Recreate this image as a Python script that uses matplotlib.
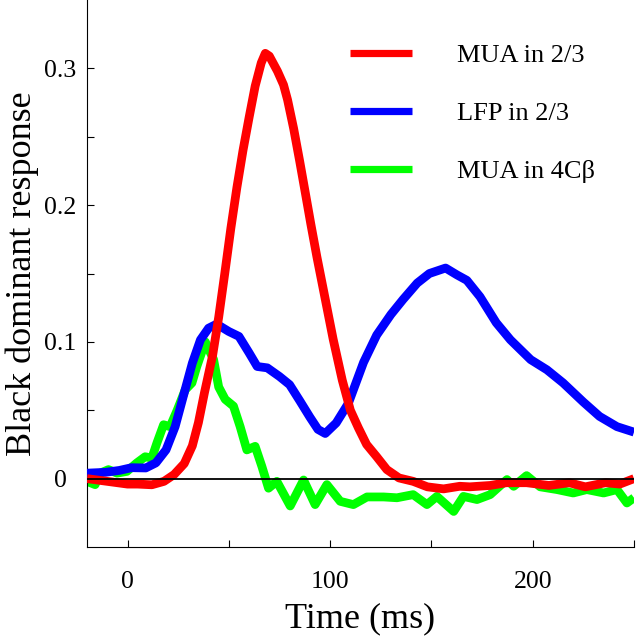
import numpy as np
import matplotlib
matplotlib.use("Agg")
import matplotlib.pyplot as plt

plt.rcParams['font.family'] = ['Liberation Serif', 'DejaVu Serif']

# MUA in 2/3 (red)
t_mua23 = [-20, -10, 0, 5, 12, 18, 23, 28, 32, 35, 38, 42, 45, 48, 51, 54, 57, 60, 63, 66,
           68, 70, 74, 77, 79, 82, 85, 88, 90.5, 93.5, 97.5, 101.5, 106, 110, 114, 118, 123,
           128, 134, 141, 148, 156, 164, 169, 179, 187, 197, 208, 218, 226, 236, 243, 250]
v_mua23 = [0.0, -0.002, -0.004, -0.004, -0.0045, -0.002, 0.003, 0.011, 0.024, 0.041, 0.063,
           0.090, 0.118, 0.150, 0.183, 0.213, 0.240, 0.264, 0.287, 0.304,
           0.311, 0.309, 0.298, 0.288, 0.277, 0.256, 0.232, 0.207, 0.186, 0.162, 0.132, 0.102,
           0.072, 0.050, 0.037, 0.025, 0.016, 0.0066, 0.0005, -0.002, -0.006, -0.0075, -0.0056,
           -0.006, -0.005, -0.003, -0.003, -0.005, -0.003, -0.006, -0.003, -0.004, 0.0]

# LFP in 2/3 (blue)
t_lfp23 = [-20, -11, -4, 2, 9, 14, 19, 23.5, 27.5, 32, 36, 40, 44, 50, 55, 60, 64, 69, 75,
           80, 85, 90, 94, 97.6, 103, 109, 116.5, 123, 130, 136, 143, 149, 157, 162.6, 167.5,
           174, 182, 189, 199, 207, 215, 225, 233, 241.6, 250]
v_lfp23 = [0.004, 0.0046, 0.006, 0.008, 0.0078, 0.0115, 0.021, 0.038, 0.060, 0.0845, 0.1015,
           0.110, 0.113, 0.1076, 0.104, 0.092, 0.082, 0.081, 0.0747, 0.0687, 0.057, 0.045,
           0.036, 0.033, 0.0407, 0.055, 0.085, 0.105, 0.12, 0.131, 0.143, 0.150, 0.154, 0.149,
           0.145, 0.133, 0.114, 0.1015, 0.087, 0.0796, 0.070, 0.056, 0.0455, 0.038, 0.034]

# MUA in 4Cbeta (green)
t_mua4c = [-20, -16, -13.5, -9.4, -5.2, -0.3, 4.6, 8.7, 12, 14.5, 17.8, 21, 24.5, 28.5, 31.8,
           34.2, 38.4, 42.5, 45, 48.2, 52.3, 55.6, 58.9, 63, 66.3, 69.6, 73.7, 80.3, 86.9,
           92.6, 98.4, 105, 111.5, 118.2, 126.4, 133, 141, 147.8, 152.7, 161, 165.8, 172.5,
           179, 187.3, 190.6, 197, 203.7, 212, 220, 226.7, 235, 241.6, 246.5, 250]
v_mua4c = [-0.002, -0.0044, 0.004, 0.0066, 0.004, 0.0053, 0.0115, 0.016, 0.015, 0.026, 0.0394,
           0.038, 0.05, 0.065, 0.070, 0.082, 0.100, 0.087, 0.067, 0.058, 0.053, 0.038, 0.021,
           0.0236, 0.009, -0.007, -0.002, -0.020, -0.001, -0.019, -0.0044, -0.0166, -0.019,
           -0.0134, -0.0134, -0.014, -0.0117, -0.019, -0.013, -0.024, -0.013, -0.0153, -0.0117,
           -0.0007, -0.0056, 0.0022, -0.006, -0.008, -0.0105, -0.008, -0.0105, -0.008, -0.0178,
           -0.014]

labels = ["MUA in 2/3", "LFP in 2/3", "MUA in 4C\u03b2"]
colours = ["#ff0000", "#0000ff", "#00ff00"]

fig = plt.figure(figsize=(6.38, 6.39), dpi=100)
ax = fig.add_axes([87/638., 92/639., 547/638., 547/639.])

lw = 6.3
ax.plot(t_mua4c, v_mua4c, color=colours[2], lw=lw, label=labels[2], zorder=2,
        solid_joinstyle='round', solid_capstyle='butt')
ax.plot(t_lfp23, v_lfp23, color=colours[1], lw=lw, label=labels[1], zorder=3,
        solid_joinstyle='round', solid_capstyle='butt')
ax.plot(t_mua23, v_mua23, color=colours[0], lw=lw, label=labels[0], zorder=4,
        solid_joinstyle='round', solid_capstyle='butt')
ax.axhline(0, color='black', lw=1.3, zorder=5)

ax.set_xlim(-20, 250)
ax.set_ylim(-0.05, 0.35)
ax.set_xticks([0, 100, 200])
ax.set_xticks([50, 150, 250], minor=True)
ax.set_yticks([0, 0.1, 0.2, 0.3])
ax.set_yticks([0.05, 0.15, 0.25], minor=True)
ax.set_yticklabels(["0", "0.1", "0.2", "0.3"])
ax.tick_params(which='both', direction='in', length=5, width=0.8, labelsize=18.5)
ax.tick_params(axis='x', which='major', pad=17)
ax.tick_params(axis='y', which='major', pad=19)
for lab in ax.get_yticklabels():
    lab.set_horizontalalignment('center')

for s in ['top', 'right']:
    ax.spines[s].set_visible(False)
for s in ['left', 'bottom']:
    ax.spines[s].set_linewidth(0.8)

ax.set_xlabel("Time (ms)", fontsize=26, labelpad=7)
ax.set_ylabel("Black dominant response", fontsize=26, labelpad=4)

handles, labs = ax.get_legend_handles_labels()
order = [2, 1, 0]
leg = fig.legend([handles[i] for i in order], [labs[i] for i in order],
                 loc='upper left', bbox_to_anchor=(350/638., 1 - 44/639.),
                 frameon=False, fontsize=19, handlelength=2.35, handletextpad=1.7,
                 labelspacing=1.3, borderpad=0, borderaxespad=0)
for ln in leg.get_lines():
    ln.set_linewidth(5.2)

plt.savefig("out.png", dpi=100)
